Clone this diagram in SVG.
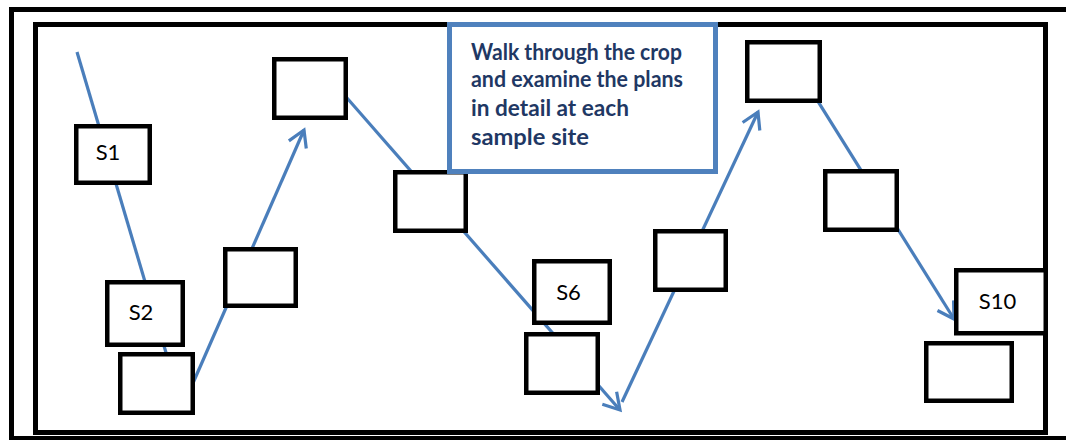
<svg xmlns="http://www.w3.org/2000/svg" width="1066" height="440" viewBox="0 0 1066 440">
  <defs>
    <style>
      .frame { fill: none; stroke: #000; stroke-width: 5; }
      .box { fill: #fff; stroke: #000; stroke-width: 4.5; }
      .conn { fill: none; stroke: #4A7EBB; stroke-width: 3.2; }
      .lbl { font-family: Lato, "Liberation Sans", sans-serif; font-size: 22px; fill: #000; text-anchor: middle; }
      .note { fill: #fff; stroke: #4F81BD; stroke-width: 5; }
      .notetxt { font-family: Lato, "Liberation Sans", sans-serif; font-weight: bold; font-size: 23.5px; fill: #1F3864; }
    </style>
    <marker id="arr" markerUnits="userSpaceOnUse" markerWidth="30" markerHeight="30" viewBox="-20 -15 30 30" refX="0" refY="0" orient="auto" overflow="visible">
      <path d="M-16,-9.5 L0,0 L-16,9.5" fill="none" stroke="#4A7EBB" stroke-width="3.2" stroke-linejoin="miter"/>
    </marker>
  </defs>
  <rect width="1066" height="440" fill="#fff"/>
  <g id="frame">
    <rect class="frame" x="11.5" y="9.5" width="1080" height="429"/>
    <rect class="frame" x="35.5" y="24.5" width="1010" height="408"/>
  </g>
  <g id="connectors">
    <line class="conn" x1="77" y1="52" x2="167" y2="356"/>
    <line class="conn" x1="193" y1="383" x2="304" y2="130" marker-end="url(#arr)"/>
    <line class="conn" x1="340" y1="90" x2="620" y2="410" marker-end="url(#arr)"/>
    <line class="conn" x1="622" y1="402" x2="758" y2="112" marker-end="url(#arr)"/>
    <line class="conn" x1="815" y1="96.6" x2="954" y2="319" marker-end="url(#arr)"/>
  </g>
  <g id="S1"><rect class="box" x="76.25" y="126.25" width="73.5" height="56.5"/><text class="lbl" x="108" y="159.5">S1</text></g>
  <g id="box-b3"><rect class="box" x="274.25" y="59.25" width="71.5" height="58.5"/></g>
  <g id="S2"><rect class="box" x="107.25" y="282.25" width="75.5" height="62.5"/><text class="lbl" x="141" y="320">S2</text></g>
  <g id="box-s3"><rect class="box" x="120.25" y="354.25" width="72.5" height="58.5"/></g>
  <g id="box-s4"><rect class="box" x="225.25" y="249.25" width="70.5" height="56.5"/></g>
  <g id="box-s5"><rect class="box" x="395.25" y="172.25" width="70.5" height="58.5"/></g>
  <g id="S6"><rect class="box" x="534.25" y="261.25" width="75.5" height="61.5"/><text class="lbl" x="568.5" y="299.5">S6</text></g>
  <g id="box-s7"><rect class="box" x="526.25" y="334.25" width="71.5" height="58.5"/></g>
  <g id="box-s8"><rect class="box" x="655.25" y="231.25" width="70.5" height="58.5"/></g>
  <g id="box-s9"><rect class="box" x="747.25" y="42.25" width="72.5" height="58.5"/></g>
  <g id="box-s9b"><rect class="box" x="825.25" y="171.25" width="71.5" height="58.5"/></g>
  <g id="S10"><rect class="box" x="956.25" y="270.25" width="89.5" height="63"/><text class="lbl" x="997.5" y="308.5">S10</text></g>
  <g id="box-s11"><rect class="box" x="926.25" y="343.25" width="85.5" height="57.5"/></g>
  <g id="note">
    <rect class="note" x="449.5" y="24.5" width="266" height="147"/>
    <text class="notetxt" x="471" y="60" textLength="211" lengthAdjust="spacingAndGlyphs">Walk through the crop</text>
    <text class="notetxt" x="471" y="87" textLength="212" lengthAdjust="spacingAndGlyphs">and examine the plans</text>
    <text class="notetxt" x="471" y="116" textLength="158" lengthAdjust="spacingAndGlyphs">in detail at each</text>
    <text class="notetxt" x="471" y="145" textLength="118" lengthAdjust="spacingAndGlyphs">sample site</text>
  </g>
</svg>
